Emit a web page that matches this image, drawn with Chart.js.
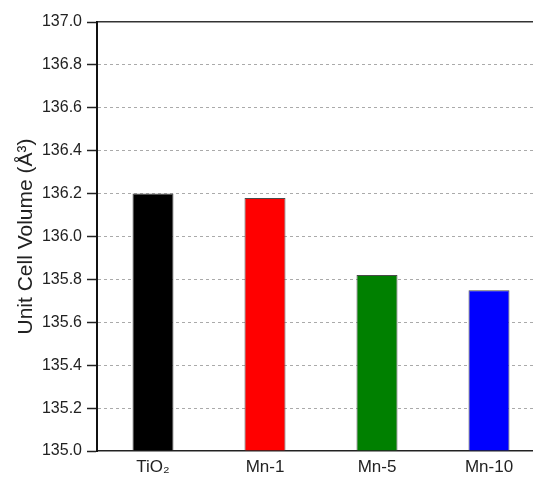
<!DOCTYPE html>
<html>
<head>
<meta charset="utf-8">
<script src="https://cdn.jsdelivr.net/npm/chart.js@4/dist/chart.umd.min.js"></script>
<style>
html,body{margin:0;padding:0;background:#fff;overflow:hidden;width:533px;height:477px;}
#wrap{width:560px;height:477px;}
</style>
</head>
<body>
<div id="wrap"><canvas id="c" width="560" height="477"></canvas></div>
<script>
const categories = ['TiO\u2082', 'Mn-1', 'Mn-5', 'Mn-10'];
const volumes = [136.20, 136.18, 135.82, 135.75];
const barColors = ['#000000', '#ff0000', '#008000', '#0000ff'];
const yMin = 135.0, yMax = 137.0, yStep = 0.2;
const yTitle = 'Unit Cell Volume (\u00c5\u00b3)';

const FONT = '"Liberation Sans", Arial, sans-serif';

new Chart(document.getElementById('c'), {
  type: 'bar',
  data: {
    labels: categories,
    datasets: [{
      data: volumes,
      backgroundColor: barColors,
      borderColor: '#4a4a4a',
      borderWidth: 1,
      categoryPercentage: 1.0,
      barPercentage: 0.366,
      base: yMin
    }]
  },
  options: {
    responsive: false,
    animation: false,
    layout: { padding: { left: 0, right: 15, top: 22, bottom: 0 } },
    plugins: { legend: { display: false }, tooltip: { enabled: false } },
    scales: {
      x: {
        type: 'category',
        position: 'bottom',
        grid: { display: false, drawTicks: false },
        border: { display: true, color: '#222', width: 1.5 },
        ticks: { color: '#222', font: { family: FONT, size: 17 }, padding: 6, maxRotation: 0 },
        afterFit: s => { s.height = 26; }
      },
      x2: {
        type: 'category',
        position: 'top',
        labels: categories,
        grid: { display: false, drawTicks: false },
        border: { display: true, color: '#333', width: 1.5 },
        ticks: { display: false },
        afterFit: s => { s.height = 0; }
      },
      y: {
        min: yMin,
        max: yMax,
        grid: {
          color: c => (c.tick && (Math.abs(c.tick.value - yMin) < 1e-6 || Math.abs(c.tick.value - yMax) < 1e-6)) ? 'rgba(0,0,0,0)' : '#aaaaaa',
          lineWidth: 1,
          drawTicks: true,
          tickLength: 10,
          tickColor: '#222',
          tickWidth: 1.5
        },
        border: { display: true, color: '#111', width: 2, dash: [3, 3] },
        ticks: {
          stepSize: yStep,
          color: '#222',
          font: { family: FONT, size: 16 },
          padding: 5,
          callback: v => Number(v).toFixed(1)
        },
        title: {
          display: true,
          text: yTitle,
          color: '#222',
          font: { family: FONT, size: 21 },
          padding: { top: 14, bottom: 0 }
        },
        afterFit: s => { s.width = 97; }
      }
    }
  }
});
</script>
</body>
</html>
